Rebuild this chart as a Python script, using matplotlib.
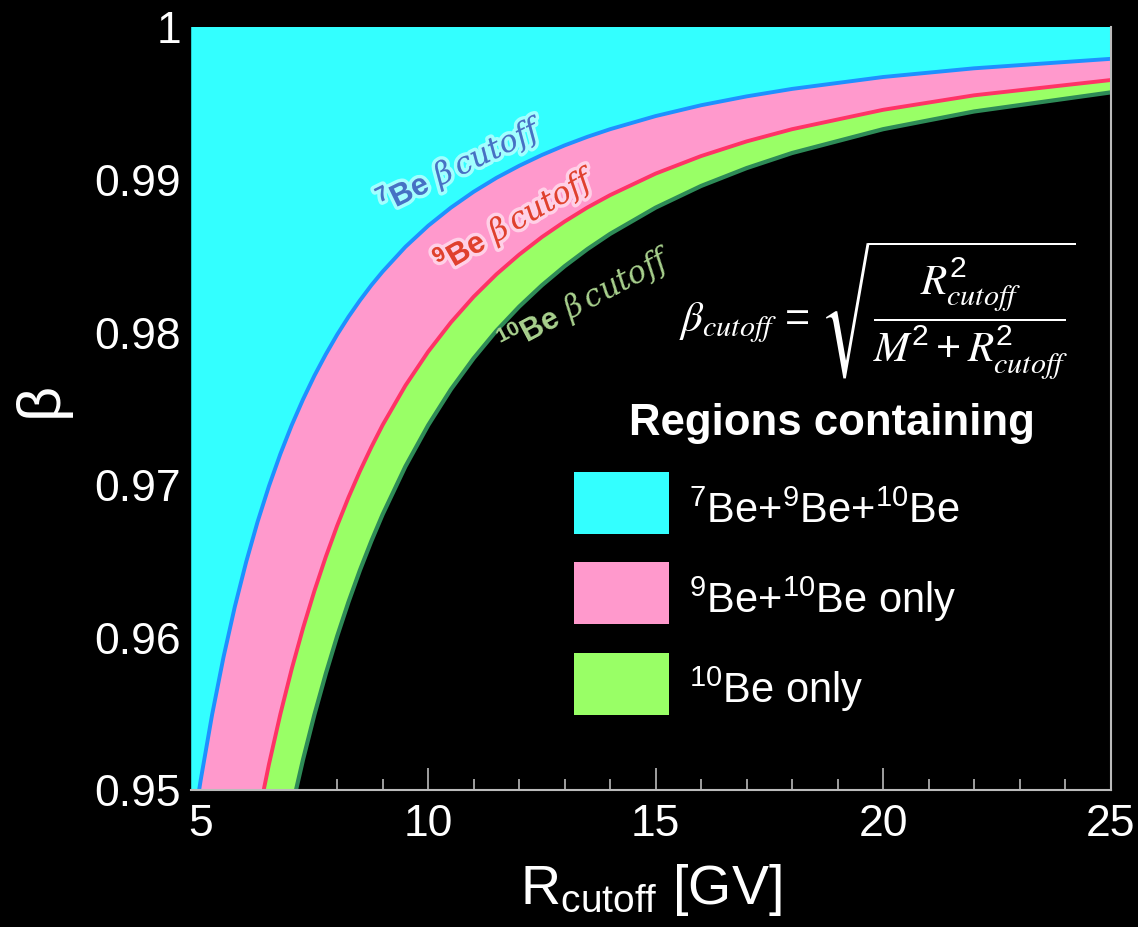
import matplotlib
matplotlib.use("Agg")
import matplotlib.pyplot as plt
import matplotlib.patheffects as pe
from matplotlib.patches import Rectangle
from matplotlib.ticker import MultipleLocator, FixedLocator, FuncFormatter

plt.rcParams['font.family'] = ['Liberation Sans', 'DejaVu Sans']
plt.rcParams['mathtext.fontset'] = 'custom'
plt.rcParams['mathtext.rm'] = 'Liberation Sans'
plt.rcParams['mathtext.bf'] = 'Liberation Sans:bold'
plt.rcParams['mathtext.it'] = 'DejaVu Serif:italic'
plt.rcParams['mathtext.default'] = 'regular'

# Rigidity cutoff [GV]
R = [4.78, 4.9, 5.0, 5.25, 5.5, 5.75, 6.0, 6.25, 6.5, 6.75, 7.0, 7.25, 7.5, 7.75,
     8.0, 8.25, 8.5, 8.75, 9.0, 9.5, 10, 10.5, 11, 11.5, 12, 12.5, 13, 13.5,
     14, 15, 16, 17, 18, 20, 22, 25]
# beta cutoff read for each isotope
beta_7Be = [0.94633, 0.94873, 0.95062, 0.95490, 0.95866, 0.96198, 0.96492, 0.96754,
            0.96988, 0.97198, 0.97387, 0.97557, 0.97712, 0.97852, 0.97981, 0.98098,
            0.98205, 0.98304, 0.98394, 0.98556, 0.98694, 0.98813, 0.98917, 0.99008,
            0.99087, 0.99158, 0.99221, 0.99277, 0.99327, 0.99413, 0.99484, 0.99542,
            0.99591, 0.99669, 0.99726, 0.99788]
beta_9Be = [0.91567, 0.91900, 0.92210, 0.92858, 0.93432, 0.93941, 0.94395, 0.94800,
            0.95165, 0.95493, 0.95789, 0.96058, 0.96302, 0.96525, 0.96729, 0.96915,
            0.97086, 0.97243, 0.97389, 0.97647, 0.97869, 0.98061, 0.98229, 0.98376,
            0.98505, 0.98620, 0.98722, 0.98814, 0.98895, 0.99036, 0.99151, 0.99247,
            0.99327, 0.99454, 0.99549, 0.99649]
beta_10Be = [0.89876, 0.90270, 0.90628, 0.91390, 0.92067, 0.92670, 0.93208, 0.93692,
             0.94127, 0.94519, 0.94874, 0.95197, 0.95491, 0.95759, 0.96005, 0.96230,
             0.96437, 0.96627, 0.96803, 0.97117, 0.97387, 0.97622, 0.97826, 0.98006,
             0.98164, 0.98304, 0.98429, 0.98541, 0.98641, 0.98813, 0.98955, 0.99072,
             0.99171, 0.99327, 0.99443, 0.99568]

x_major = [5, 10, 15, 20, 25]
y_major = [0.95, 0.96, 0.97, 0.98, 0.99, 1.0]
legend_labels = [r'$^{7}$Be+$^{9}$Be+$^{10}$Be', r'$^{9}$Be+$^{10}$Be only', r'$^{10}$Be only']

c_cyan = '#33FFFF'
c_pink = '#FF99CC'
c_green = '#99FF66'

W, H = 1138, 928
fig = plt.figure(figsize=(W / 100, H / 100), dpi=100, facecolor='black')
ax = fig.add_axes([190.7 / W, 1 - 790.5 / H, 919.8 / W, 763 / H])
ax.set_facecolor('black')
ax.set_axisbelow(True)

top = [1.0] * len(R)
ax.fill_between(R, beta_7Be, top, color=c_cyan, lw=0, zorder=1)
ax.fill_between(R, beta_9Be, beta_7Be, color=c_pink, lw=0, zorder=1)
ax.fill_between(R, beta_10Be, beta_9Be, color=c_green, lw=0, zorder=1)
ax.plot(R, beta_7Be, color='#1E90FF', lw=2.8, zorder=2)
ax.plot(R, beta_9Be, color='#FF3366', lw=2.8, zorder=2)
ax.plot(R, beta_10Be, color='#2E8B57', lw=3.0, zorder=2)

ax.set_xlim(4.78, 25)
ax.set_ylim(0.95, 1.0)

ax.xaxis.set_major_locator(FixedLocator(x_major))
ax.xaxis.set_minor_locator(MultipleLocator(1))
ax.yaxis.set_major_locator(FixedLocator(y_major))
ax.yaxis.set_major_formatter(FuncFormatter(lambda v, p: '%g' % round(v, 2)))
ax.tick_params(axis='x', which='major', direction='in', length=16, width=1.2,
               color='#BBBBBB', labelcolor='white', labelsize=32, pad=10)
ax.tick_params(axis='x', which='minor', direction='in', length=8, width=1.2, color='#BBBBBB')
ax.tick_params(axis='y', which='major', direction='in', length=0, labelcolor='white',
               labelsize=32, pad=7)
ax.tick_params(top=False)
for s in ['bottom', 'right']:
    ax.spines[s].set_color('#BBBBBB')
    ax.spines[s].set_linewidth(1.5)
    ax.spines[s].set_zorder(3)
ax.spines['top'].set_visible(False)
ax.spines['left'].set_visible(False)

ax.set_xlabel(r'R$_{\mathrm{cutoff}}$ [GV]', color='white', fontsize=40, labelpad=12)
ax.text(-0.163, 0.512, 'β', transform=ax.transAxes, rotation=90, color='white',
        fontsize=44, ha='center', va='center')

glow = [pe.withStroke(linewidth=5, foreground=(1, 1, 1, 0.55))]
ax.text(10.72, 0.99095, r'$^{\mathbf{7}}\mathbf{Be}\ \mathit{\beta\,cutoff}$',
        color='#4472C4', fontsize=22, rotation=26, rotation_mode='anchor',
        ha='center', va='center', zorder=5, path_effects=glow)
ax.text(11.92, 0.98735, r'$^{\mathbf{9}}\mathbf{Be}\ \mathit{\beta\,cutoff}$',
        color='#E0402E', fontsize=22, rotation=30, rotation_mode='anchor',
        ha='center', va='center', zorder=5, path_effects=glow)
ax.text(13.47, 0.98210, r'$^{\mathbf{10}}\mathbf{Be}\ \mathit{\beta\,cutoff}$',
        color='#A9D18E', fontsize=22, rotation=28, rotation_mode='anchor',
        ha='center', va='center', zorder=5)

ax.text(0.7461, 0.6298,
        r'$\mathit{\beta_{cutoff}}\,=\,\sqrt{\dfrac{\mathit{R}^2_{\mathit{cutoff}}}'
        r'{\mathit{M}^2+\mathit{R}^2_{\mathit{cutoff}}}}$',
        transform=ax.transAxes, color='white', fontsize=31, ha='center', va='center',
        math_fontfamily='stix', zorder=5)

# legend
ax.text(0.6967, 0.4659, 'Regions containing', transform=ax.transAxes, color='white',
        fontsize=31.5, fontweight='bold', ha='center', va='baseline', zorder=5)
box_colors = [c_cyan, c_pink, c_green]
box_y = [0.3349, 0.2169, 0.0976]
text_base = [0.3506, 0.2326, 0.1147]
for col, by, lab, tb in zip(box_colors, box_y, legend_labels, text_base):
    ax.add_patch(Rectangle((0.4168, by), 0.1030, 0.0813, transform=ax.transAxes,
                           facecolor=col, edgecolor='none', zorder=5, clip_on=False))
    ax.text(0.5418, tb, lab, transform=ax.transAxes, color='white', fontsize=30,
            ha='left', va='baseline', zorder=5)

fig.savefig('out.png', dpi=100, facecolor='black')
